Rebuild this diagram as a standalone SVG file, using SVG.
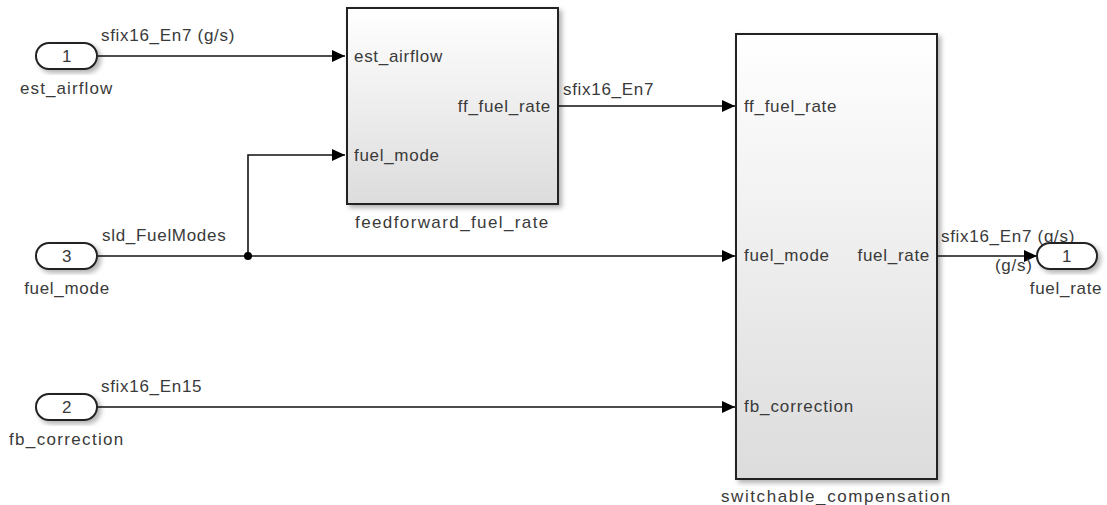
<svg xmlns="http://www.w3.org/2000/svg" width="1107" height="505" viewBox="0 0 1107 505">
<defs>
<linearGradient id="blk" x1="0" y1="0" x2="0" y2="1">
<stop offset="0" stop-color="#ffffff"/>
<stop offset="1" stop-color="#dcdcdc"/>
</linearGradient>
<filter id="sh" x="-10%" y="-10%" width="130%" height="130%">
<feDropShadow dx="3" dy="3" stdDeviation="2.5" flood-color="#000" flood-opacity="0.3"/>
</filter>
<marker id="arr" markerWidth="13" markerHeight="12" refX="13" refY="6" orient="auto" markerUnits="userSpaceOnUse">
<path d="M0,0 L13,6 L0,12 z" fill="#000"/>
</marker>
</defs>
<style>
text{font-family:"Liberation Sans",Arial,sans-serif;font-size:17px;fill:#3a3a3a;letter-spacing:0.7px}
.blk{fill:url(#blk);stroke:#222;stroke-width:2;filter:url(#sh)}
.port{fill:#fff;stroke:#222;stroke-width:2;filter:url(#sh)}
.w{fill:none;stroke:#111;stroke-width:1.6}
.mid{text-anchor:middle}
.end{text-anchor:end}
</style>
<rect width="1107" height="505" fill="#fff"/>

<g id="connectors">
<path class="w" d="M97,56 H345" marker-end="url(#arr)"/>
<path class="w" d="M558,106 H735" marker-end="url(#arr)"/>
<path class="w" d="M97,256 H735" marker-end="url(#arr)"/>
<path class="w" d="M248,256 V155 H345" marker-end="url(#arr)"/>
<circle cx="248" cy="256" r="4" fill="#000"/>
<path class="w" d="M97,407 H735" marker-end="url(#arr)"/>
<path class="w" d="M937,256 H1037" marker-end="url(#arr)"/>
<text x="101" y="41">sfix16_En7 (g/s)</text>
<text x="563" y="95">sfix16_En7</text>
<text x="102" y="241">sld_FuelModes</text>
<text x="101" y="392">sfix16_En15</text>
<text x="941" y="242">sfix16_En7 (g/s)</text>
<text x="995" y="271">(g/s)</text>
</g>

<g id="in_est_airflow">
<rect class="port" x="36" y="43" width="61" height="26" rx="13"/>
<text class="mid" x="67" y="62">1</text>
<text x="20" y="94" textLength="93" lengthAdjust="spacing">est_airflow</text>
</g>

<g id="in_fuel_mode">
<rect class="port" x="36" y="243" width="61" height="26" rx="13"/>
<text class="mid" x="67" y="262">3</text>
<text class="mid" x="67" y="294">fuel_mode</text>
</g>

<g id="in_fb_correction">
<rect class="port" x="36" y="394" width="61" height="26" rx="13"/>
<text class="mid" x="67" y="413">2</text>
<text x="9" y="445" textLength="115" lengthAdjust="spacing">fb_correction</text>
</g>

<g id="feedforward_fuel_rate">
<rect class="blk" x="347" y="8" width="211" height="196"/>
<text x="354" y="62">est_airflow</text>
<text x="354" y="161">fuel_mode</text>
<text class="end" x="551" y="112">ff_fuel_rate</text>
<text x="355" y="228" textLength="194" lengthAdjust="spacing">feedforward_fuel_rate</text>
</g>

<g id="switchable_compensation">
<rect class="blk" x="736" y="34" width="201" height="445"/>
<text x="744" y="112">ff_fuel_rate</text>
<text x="744" y="261">fuel_mode</text>
<text x="744" y="412" textLength="110" lengthAdjust="spacing">fb_correction</text>
<text class="end" x="930" y="261">fuel_rate</text>
<text x="721" y="502" textLength="230" lengthAdjust="spacing">switchable_compensation</text>
</g>

<g id="out_fuel_rate">
<rect class="port" x="1037" y="243" width="60" height="26" rx="13"/>
<text class="mid" x="1067" y="262">1</text>
<text class="mid" x="1066" y="294">fuel_rate</text>
</g>
</svg>
